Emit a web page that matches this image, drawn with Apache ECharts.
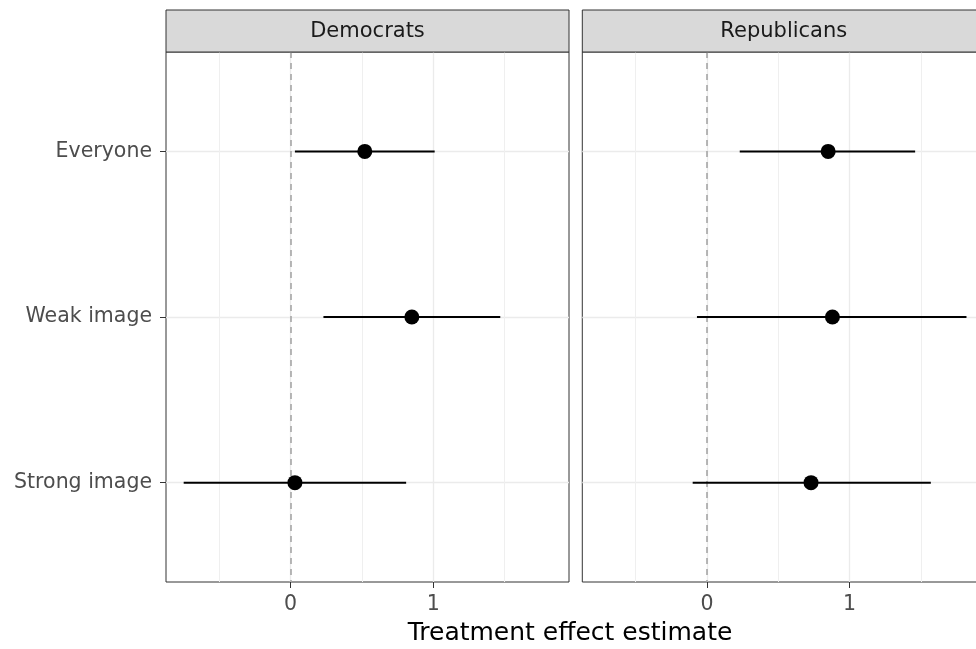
<!DOCTYPE html>
<html>
<head>
<meta charset="utf-8">
<title>Treatment effect estimate</title>
<script src="https://cdn.jsdelivr.net/npm/echarts@6/dist/echarts.min.js"></script>
<style>
  html, body { margin: 0; padding: 0; background: #ffffff; }
  #chart { width: 976px; height: 649px; }
</style>
</head>
<body>
<div id="chart"></div>
<script>
// Facet panels and row categories
const groups = ['Democrats', 'Republicans'];
const subsets = ['Everyone', 'Weak image', 'Strong image'];

// Point estimates with interval bounds, one entry per subset
const demEst = [0.52, 0.85, 0.03];
const demLow = [0.03, 0.23, -0.75];
const demHigh = [1.01, 1.47, 0.81];

const repEst = [0.85, 0.88, 0.73];
const repLow = [0.23, -0.07, -0.10];
const repHigh = [1.46, 1.82, 1.57];

// Axis ticks
const xTicks = [0, 1];
const xMinorGrid = [-0.5, 0.5, 1.5];
const xRange = [-0.874, 1.952];

const FONT = 'DejaVu Sans';
const panelLeft = [166, 582.3];
const panelWidth = 403;
const panelTop = 52;
const panelHeight = 530;
const stripTop = 10;

const chart = echarts.init(document.getElementById('chart'), null, { renderer: 'canvas' });

const estimates = [demEst, repEst];
const lows = [demLow, repLow];
const highs = [demHigh, repHigh];

const rowPos = subsets.map((s, i) => i + 1);

const grids = [];
const xAxes = [];
const yAxes = [];
const series = [];
const graphics = [];

groups.forEach((g, gi) => {
  grids.push({
    left: panelLeft[gi], top: panelTop, width: panelWidth, height: panelHeight,
    show: true, borderColor: '#333333', borderWidth: 1, backgroundColor: 'transparent',
    outerBoundsMode: 'none', containLabel: false
  });

  // main x axis: labelled ticks and major grid lines
  xAxes.push({
    type: 'value', gridIndex: gi, min: xRange[0], max: xRange[1], position: 'bottom',
    axisLine: { show: false, onZero: false },
    axisTick: { show: true, length: 6, customValues: xTicks, lineStyle: { color: '#333333', width: 1 } },
    axisLabel: { show: true, customValues: xTicks, margin: 12, color: '#4D4D4D', fontFamily: FONT, fontSize: 20.5 },
    splitLine: { show: true, lineStyle: { color: '#EBEBEB', width: 1.3 } }
  });
  // helper x axis: minor grid lines only
  xAxes.push({
    type: 'value', gridIndex: gi, min: xRange[0], max: xRange[1], position: 'bottom',
    axisLine: { show: false, onZero: false },
    axisTick: { show: false, customValues: xMinorGrid },
    axisLabel: { show: false, customValues: xMinorGrid },
    splitLine: { show: true, lineStyle: { color: '#EFEFEF', width: 1 } }
  });

  yAxes.push({
    type: 'value', gridIndex: gi, min: 0.4, max: 3.6, inverse: true, position: 'left',
    axisLine: { show: false, onZero: false },
    axisTick: { show: gi === 0, length: 6, customValues: rowPos, lineStyle: { color: '#333333', width: 1 } },
    axisLabel: {
      show: gi === 0, customValues: rowPos, margin: 14, color: '#4D4D4D',
      fontFamily: FONT, fontSize: 20.5,
      formatter: v => subsets[Math.round(v) - 1] || ''
    },
    splitLine: { show: true, lineStyle: { color: '#EBEBEB', width: 1.3 } }
  });

  // interval bars
  series.push({
    type: 'custom',
    xAxisIndex: gi * 2, yAxisIndex: gi,
    z: 3,
    data: subsets.map((s, i) => [lows[gi][i], highs[gi][i], i + 1]),
    renderItem: (params, api) => {
      const a = api.coord([api.value(0), api.value(2)]);
      const b = api.coord([api.value(1), api.value(2)]);
      return {
        type: 'line',
        shape: { x1: a[0], y1: a[1], x2: b[0], y2: b[1] },
        style: { stroke: '#000000', lineWidth: 2 }
      };
    },
    markLine: {
      silent: true, symbol: 'none', z: 2,
      label: { show: false },
      lineStyle: { color: '#A6A6A6', type: [6, 5], width: 1.6 },
      data: [{ xAxis: 0 }]
    }
  });

  // point estimates
  series.push({
    type: 'scatter',
    xAxisIndex: gi * 2, yAxisIndex: gi,
    z: 4,
    symbol: 'circle', symbolSize: 15,
    itemStyle: { color: '#000000', opacity: 1 },
    data: subsets.map((s, i) => [estimates[gi][i], i + 1])
  });

  // facet strip
  graphics.push({
    type: 'rect',
    shape: { x: panelLeft[gi], y: stripTop, width: panelWidth, height: panelTop - stripTop },
    style: { fill: '#D9D9D9', stroke: '#333333', lineWidth: 1 },
    z: 10
  });
  graphics.push({
    type: 'text',
    x: panelLeft[gi] + panelWidth / 2, y: (stripTop + panelTop) / 2 + 1,
    style: {
      text: g, fill: '#1A1A1A', font: '21px "' + FONT + '"',
      textAlign: 'center', textVerticalAlign: 'middle'
    },
    z: 11
  });
});

// shared x axis title
graphics.push({
  type: 'text',
  x: 570, y: 633,
  style: {
    text: 'Treatment effect estimate', fill: '#000000', font: '25px "' + FONT + '"',
    textAlign: 'center', textVerticalAlign: 'middle'
  },
  z: 11
});

chart.setOption({
  backgroundColor: '#ffffff',
  animation: false,
  grid: grids,
  xAxis: xAxes,
  yAxis: yAxes,
  series: series,
  graphic: graphics
});
</script>
</body>
</html>
